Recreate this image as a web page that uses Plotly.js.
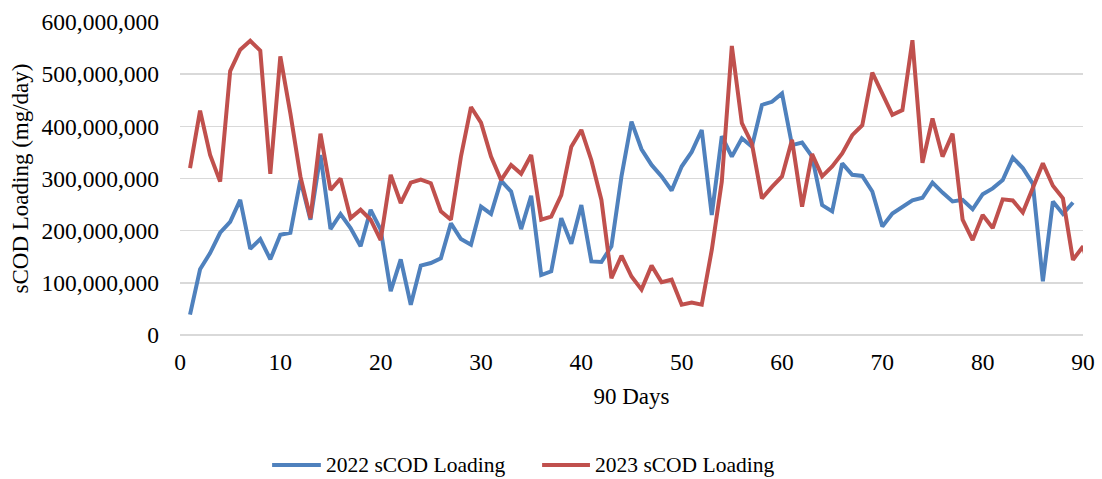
<!DOCTYPE html>
<html>
<head>
<meta charset="utf-8">
<script src="https://cdn.plot.ly/plotly-3.0.1.min.js"></script>
<style>html,body{margin:0;padding:0;background:#fff;}#chart{width:1102px;height:479px;}</style>
</head>
<body>
<div id="chart"></div>
<script>
// values in millions of mg/day
const days2022 = Array.from({length: 89}, (_, i) => i + 1);
const days2023 = Array.from({length: 91}, (_, i) => i + 1);
const loading2022 = [39,126,157,196,217,259,165,184,145,192,196,297,221,345,203,232,205,170,240,202,
  84,145,58,133,138,147,214,184,173,246,232,296,275,203,267,115,122,224,175,249,
  141,140,170,304,409,356,326,304,277,323,351,393,230,381,342,377,361,441,447,463,
  364,369,342,249,237,329,307,305,275,208,233,246,258,263,292,273,256,259,241,270,
  281,297,340,320,290,103,256,232,254];
const loading2023 = [320,430,345,294,506,547,564,545,309,534,425,304,224,386,278,300,224,240,221,182,
  307,253,292,298,291,237,221,342,437,407,342,297,326,309,345,221,227,268,361,393,
  335,259,109,152,112,87,133,101,106,58,62,58,163,294,554,406,367,262,284,304,
  374,246,347,304,323,348,383,402,503,463,422,431,565,330,415,342,386,221,182,230,
  205,260,258,235,284,329,286,262,144,170,95];
const seriesNames = ['2022 sCOD Loading', '2023 sCOD Loading'];
const seriesColors = ['#4F81BD', '#C0504D'];
const xTitle = '90 Days';
const yTitle = 'sCOD Loading (mg/day)';

const family = '"Liberation Serif", "Times New Roman", serif';
const tickFont = {family: family, size: 23.5, color: '#000'};
const titleFont = {family: family, size: 23, color: '#000'};
const legendFont = {family: family, size: 21.5, color: '#000'};

const traces = [
  {x: days2022, y: loading2022.map(v => v * 1e6), name: seriesNames[0], type: 'scatter', mode: 'lines',
   line: {color: seriesColors[0], width: 4}, showlegend: false},
  {x: days2023, y: loading2023.map(v => v * 1e6), name: seriesNames[1], type: 'scatter', mode: 'lines',
   line: {color: seriesColors[1], width: 4}, showlegend: false}
];

// custom legend (lines + labels) below the plot
const legendY = -0.415;
const legendItems = [{x0: 0.102, x1: 0.156}, {x0: 0.401, x1: 0.454}];
const shapes = legendItems.map((it, i) => ({
  type: 'line', xref: 'paper', yref: 'paper', x0: it.x0, x1: it.x1, y0: legendY, y1: legendY,
  line: {color: seriesColors[i], width: 4}
}));
const annotations = legendItems.map((it, i) => ({
  xref: 'paper', yref: 'paper', x: it.x1 + 0.003, y: legendY, xanchor: 'left', yanchor: 'middle',
  text: seriesNames[i], showarrow: false, font: legendFont
}));

const layout = {
  width: 1102, height: 479,
  margin: {l: 180, r: 19, t: 22, b: 144},
  paper_bgcolor: '#fff', plot_bgcolor: '#fff',
  font: tickFont,
  showlegend: false,
  xaxis: {
    range: [0, 90], dtick: 10, tick0: 0,
    showgrid: false, zeroline: false, showline: false,
    ticks: '', ticklabelstandoff: 10,
    title: {text: xTitle, font: titleFont, standoff: 14},
    tickfont: tickFont
  },
  yaxis: {
    range: [0, 600e6], dtick: 100e6, tick0: 0,
    tickformat: ',.0f',
    showgrid: true, gridcolor: '#d9d9d9', gridwidth: 1.5,
    zeroline: true, zerolinecolor: '#d9d9d9', zerolinewidth: 1.5,
    showline: false, ticks: '', ticklabelstandoff: 20,
    title: {text: yTitle, font: titleFont, standoff: 6},
    tickfont: tickFont
  },
  shapes: shapes,
  annotations: annotations
};

Plotly.newPlot('chart', traces, layout, {displayModeBar: false, staticPlot: true});
</script>
</body>
</html>
